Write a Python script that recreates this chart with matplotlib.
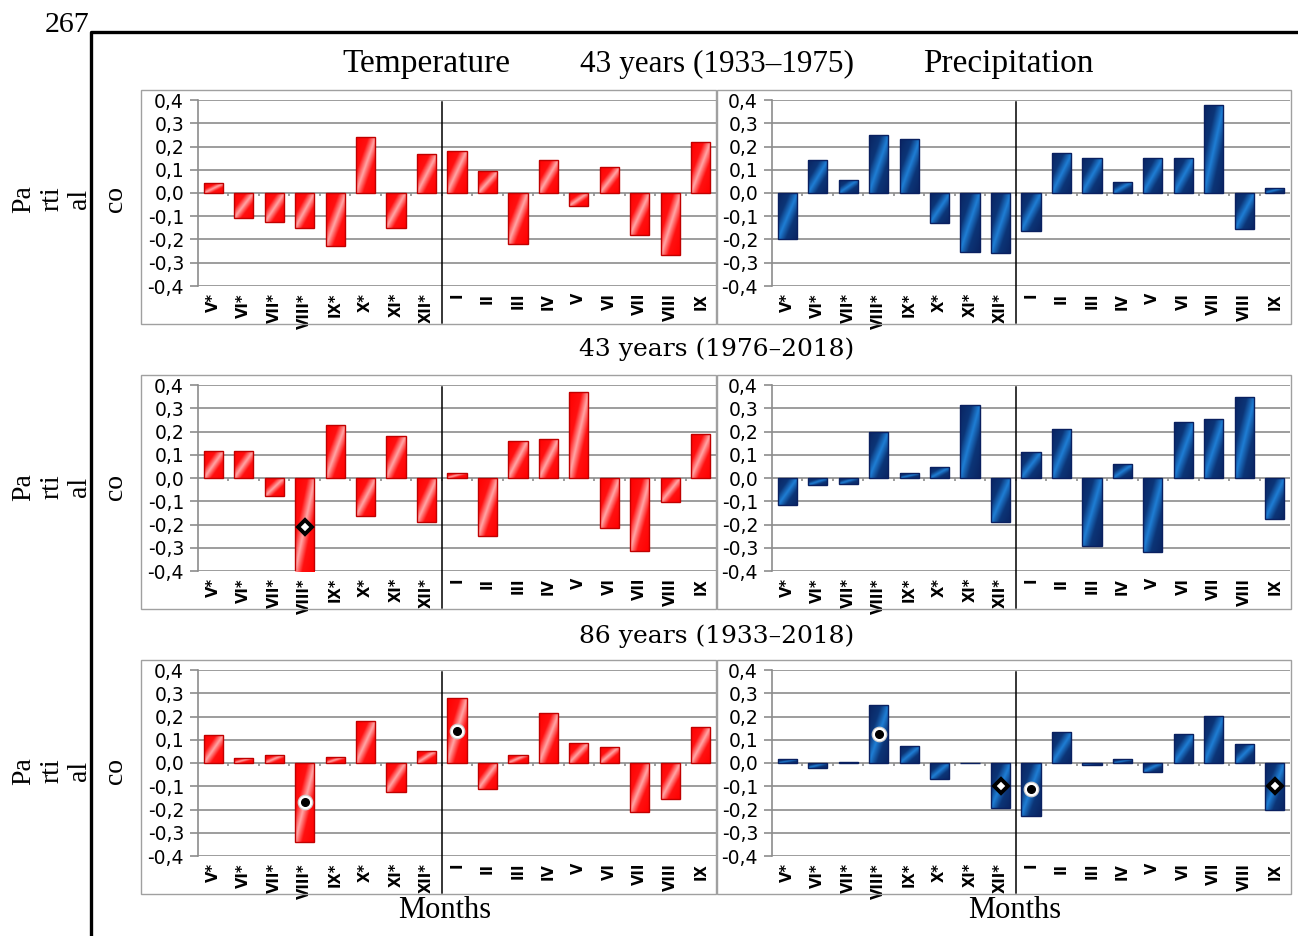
import numpy as np
import matplotlib
matplotlib.use("Agg")
import matplotlib.pyplot as plt
from matplotlib.colors import LinearSegmentedColormap
from matplotlib.patches import Rectangle
from matplotlib.lines import Line2D

# month labels: May..Dec of previous year (*) then Jan..Sep
months = ["V*", "VI*", "VII*", "VIII*", "IX*", "X*", "XI*", "XII*",
          "I", "II", "III", "IV", "V", "VI", "VII", "VIII", "IX"]

# partial correlation coefficients
temp_1933_1975 = [0.042, -0.109, -0.126, -0.152, -0.227, 0.241, -0.152, 0.166,
                  0.181, 0.093, -0.220, 0.142, -0.057, 0.111, -0.182, -0.267, 0.220]
prec_1933_1975 = [-0.200, 0.140, 0.058, 0.249, 0.232, -0.128, -0.254, -0.258,
                  -0.162, 0.171, 0.149, 0.048, 0.149, 0.152, 0.380, -0.155, 0.023]
temp_1976_2018 = [0.117, 0.117, -0.079, -0.405, 0.229, -0.162, 0.182, -0.189,
                  0.023, -0.250, 0.160, 0.169, 0.371, -0.216, -0.312, -0.104, 0.190]
prec_1976_2018 = [-0.118, -0.030, -0.026, 0.200, 0.020, 0.046, 0.314, -0.190,
                  0.110, 0.210, -0.294, 0.059, -0.320, 0.240, 0.254, 0.347, -0.178]
temp_1933_2018 = [0.122, 0.023, 0.036, -0.340, 0.027, 0.182, -0.126, 0.053,
                  0.278, -0.113, 0.036, 0.215, 0.087, 0.070, -0.209, -0.156, 0.156]
prec_1933_2018 = [0.016, -0.022, 0.003, 0.249, 0.072, -0.069, 0.002, -0.195,
                  -0.228, 0.132, -0.009, 0.016, -0.039, 0.124, 0.201, 0.083, -0.203]

# significance marks (month index, value)
diam_temp_1976_2018_idx = [3]
diam_temp_1976_2018_val = [-0.21]
circ_temp_1933_2018_idx = [3, 8]
circ_temp_1933_2018_val = [-0.169, 0.139]
circ_prec_1933_2018_idx = [3, 8]
circ_prec_1933_2018_val = [0.125, -0.113]
diam_prec_1933_2018_idx = [7, 16]
diam_prec_1933_2018_val = [-0.099, -0.099]

row_titles = ["43 years (1933\u20131975)", "43 years (1976\u20132018)", "86 years (1933\u20132018)"]

W, H = 1298, 936
GRID = "#8c8c8c"

red_cmap = LinearSegmentedColormap.from_list(
    "redgloss", [(0, "#ff0000"), (0.32, "#ff1010"), (0.5, "#ffa8a8"), (0.68, "#ff1010"), (1, "#ff0000")])
blue_cmap = LinearSegmentedColormap.from_list(
    "bluegloss", [(0, "#0a2461"), (0.3, "#0c3577"), (0.5, "#1f7fd6"), (0.7, "#0c3577"), (1, "#0a2461")])

g = np.linspace(0, 1, 64)
U, V = np.meshgrid(g, g)
SHADE = (U - V + 1) / 2


def px(x0, y0, x1, y1):
    # pixel box (top-left origin) -> figure fraction rect
    return [x0 / W, 1 - y1 / H, (x1 - x0) / W, (y1 - y0) / H]


def fmt(v):
    return ("%.1f" % (round(v, 1) + 0.0)).replace(".", ",")


def panel(fig, rect, values, cmap, edge):
    ax = fig.add_axes(rect)
    x = np.arange(len(months))
    bars = ax.bar(x, values, width=0.63, color="none", edgecolor=edge, lw=1, zorder=3)
    for b in bars:
        x0, w = b.get_x(), b.get_width()
        y0, h = b.get_y(), b.get_height()
        im = ax.imshow(SHADE, cmap=cmap, origin="lower", aspect="auto", interpolation="bilinear",
                       extent=(x0, x0 + w, min(y0, y0 + h), max(y0, y0 + h)), zorder=2)
        im.set_clip_path(b)
    ax.set_xlim(-0.5, len(months) - 0.5)
    ax.set_ylim(-0.4, 0.4)
    ticks = np.round(np.arange(-0.4, 0.41, 0.1), 1)
    ax.set_yticks(ticks)
    ax.set_yticklabels([fmt(t) for t in ticks], fontsize=13.5, family="DejaVu Sans")
    ax.yaxis.grid(True, color=GRID, lw=1.2)
    ax.set_axisbelow(True)
    ax.tick_params(axis="y", length=6, width=1.2, color=GRID, pad=4)
    ax.set_xticks(x)
    ax.set_xticklabels(months, rotation=90, fontsize=10.5, fontweight="bold", family="DejaVu Sans")
    ax.tick_params(axis="x", length=0, pad=5)
    for s in ["top", "right", "bottom"]:
        ax.spines[s].set_visible(False)
    ax.spines["left"].set_color(GRID)
    ax.spines["left"].set_linewidth(1.2)
    # small category-boundary ticks on the zero line
    ax.vlines(np.arange(len(months) - 1) + 0.5, -0.012, 0, color=GRID, lw=1.2, zorder=1)
    # separator between previous and current year
    ax.axvline(7.5, ymin=-0.2, ymax=0.99, color="black", lw=1.1, clip_on=False, zorder=4)
    return ax


def circles(ax, idx, val):
    ax.plot(idx, val, "o", ms=10.5, mfc="white", mec="#d0d0d0", mew=0.8, ls="none", zorder=6)
    ax.plot(idx, val, "o", ms=5.5, color="black", ls="none", zorder=7)


def diamonds(ax, idx, val):
    ax.plot(idx, val, "D", ms=7, mfc="white", mec="black", mew=2.8, ls="none", zorder=6)


fig = plt.figure(figsize=(W / 100, H / 100), dpi=100)

# page frame and page number
fig.add_artist(Line2D([91 / W, 91 / W, 1.0], [0.0, 1 - 32 / H, 1 - 32 / H],
                      transform=fig.transFigure, color="black", lw=2.4))
fig.text(45 / W, 1 - 32 / H, "267", family="Liberation Serif", fontsize=21.5, ha="left", va="baseline")

rows_y = [(100, 286), (385, 571), (670, 856)]
boxes_y = [(90, 324), (375, 609), (660, 894)]
label_y = [199, 487, 771]
data = [(temp_1933_1975, prec_1933_1975), (temp_1976_2018, prec_1976_2018), (temp_1933_2018, prec_1933_2018)]

axes = []
for r in range(3):
    by0, by1 = boxes_y[r]
    fig.add_artist(Rectangle((141 / W, 1 - by1 / H), (716 - 141) / W, (by1 - by0) / H,
                             transform=fig.transFigure, fill=False, ec="#a0a0a0", lw=1))
    fig.add_artist(Rectangle((717 / W, 1 - by1 / H), (1291 - 717) / W, (by1 - by0) / H,
                             transform=fig.transFigure, fill=False, ec="#a0a0a0", lw=1))
    y0, y1 = rows_y[r]
    t, p = data[r]
    axl = panel(fig, px(198, y0, 716, y1), t, red_cmap, "#c00000")
    axr = panel(fig, px(772, y0, 1290, y1), p, blue_cmap, "#0a2060")
    axes.append((axl, axr))
    fig.text(52 / W, 1 - label_y[r] / H, "Pa\nrti\nal", rotation=90, ha="center", va="center",
             family="Liberation Serif", fontsize=20, linespacing=1.15)
    fig.text(116 / W, 1 - label_y[r] / H, "co", rotation=90, ha="center", va="center",
             family="Liberation Serif", fontsize=20)

diamonds(axes[1][0], diam_temp_1976_2018_idx, diam_temp_1976_2018_val)
circles(axes[2][0], circ_temp_1933_2018_idx, circ_temp_1933_2018_val)
circles(axes[2][1], circ_prec_1933_2018_idx, circ_prec_1933_2018_val)
diamonds(axes[2][1], diam_prec_1933_2018_idx, diam_prec_1933_2018_val)

# titles
fig.text(426 / W, 1 - 64 / H, "Temperature", family="Liberation Serif", fontsize=24, ha="center", va="center")
fig.text(717 / W, 1 - 64 / H, row_titles[0], family="Liberation Serif", fontsize=22.5, ha="center", va="center")
fig.text(1008 / W, 1 - 64 / H, "Precipitation", family="Liberation Serif", fontsize=24, ha="center", va="center")
fig.text(717 / W, 1 - 349 / H, row_titles[1], family="DejaVu Serif", fontsize=18, ha="center", va="center")
fig.text(717 / W, 1 - 636 / H, row_titles[2], family="DejaVu Serif", fontsize=18, ha="center", va="center")
fig.text(445 / W, 1 - 910 / H, "Months", family="Liberation Serif", fontsize=22, ha="center", va="center")
fig.text(1015 / W, 1 - 910 / H, "Months", family="Liberation Serif", fontsize=22, ha="center", va="center")

fig.savefig("out.png", dpi=100)
